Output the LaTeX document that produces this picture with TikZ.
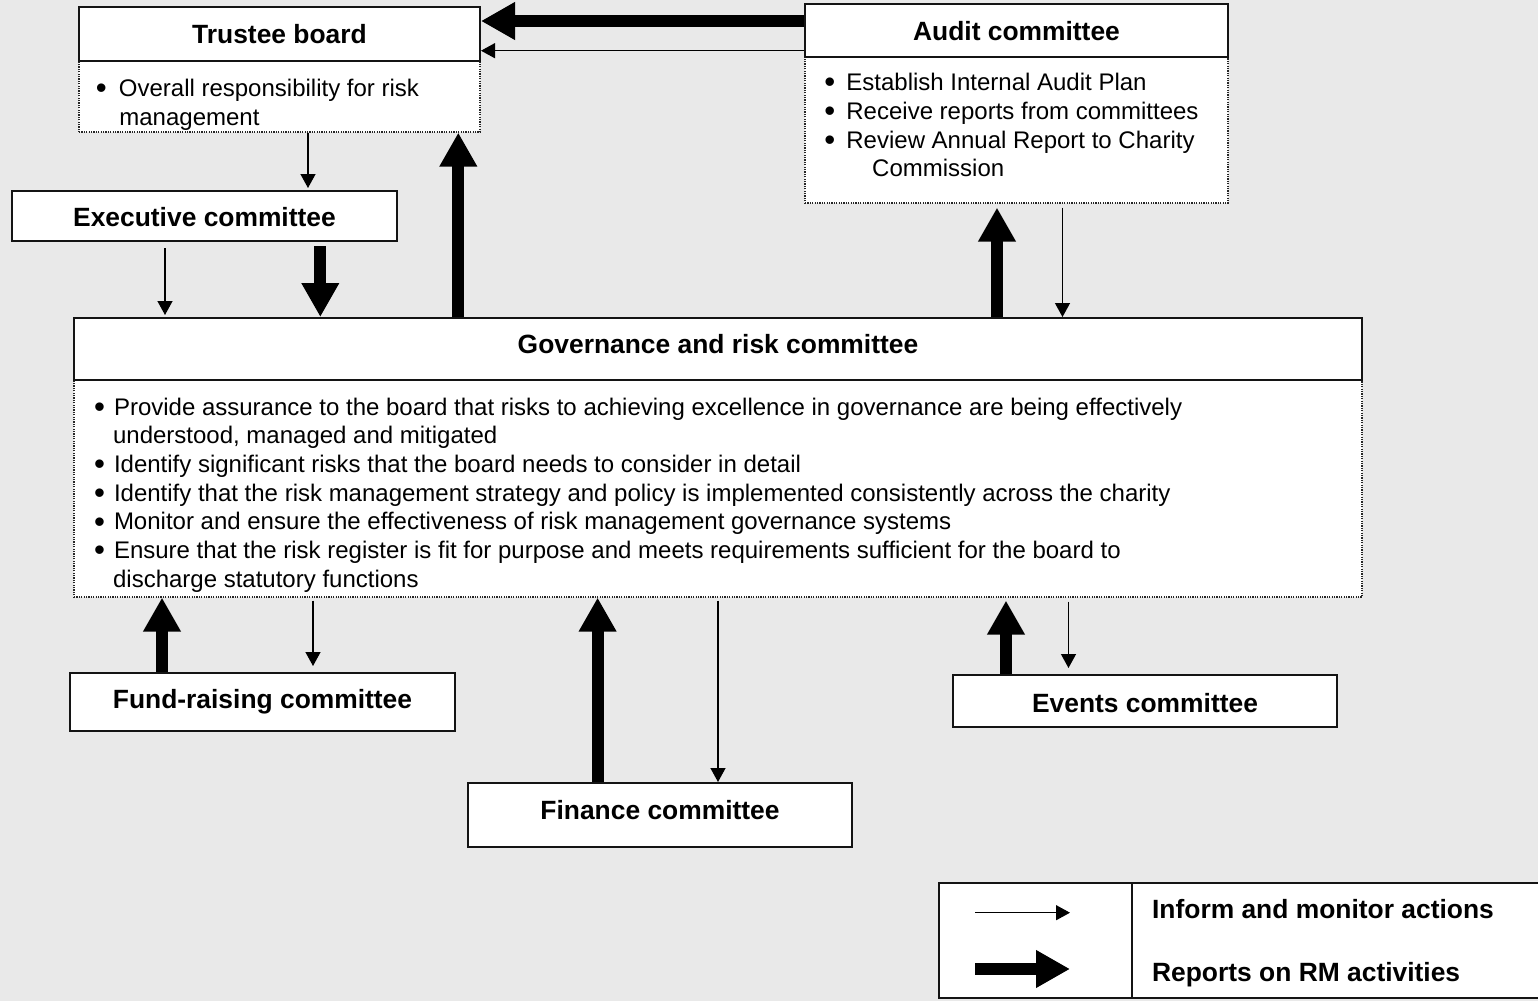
\documentclass[tikz,border=0pt]{standalone}
\usepackage{fontspec}
\setmainfont{Liberation Sans}
\usetikzlibrary{arrows.meta}

\definecolor{canvas}{RGB}{233,233,233}
\definecolor{edge}{RGB}{20,20,20}
\newcommand\hdrfont{\fontsize{13.2}{15.8}\selectfont\bfseries}
\newcommand\itemfont{\fontsize{12}{14.35}\selectfont}
% one bulleted line and one continuation line
\newcommand\bl[2]{\hbox{\makebox[#1][l]{\kern-0.4pt\raisebox{-1.1pt}{\scalebox{1.3}{\textbullet}}}#2}}
\newcommand\cl[2]{\hbox{\kern#1#2}}

\tikzset{
  hdr/.style={draw=edge, line width=1pt, fill=white, inner sep=0pt,
              font=\hdrfont, text depth=0pt},
  notes/.style={draw=black!85, line width=0.6pt, dash pattern=on 0.6pt off 0.6pt,
                fill=white, inner sep=0pt},
  txt/.style={anchor=base west, inner sep=0pt, font=\itemfont},
  inform/.style={draw=black, line width=0.65pt, -{Triangle[width=7.5pt,length=7pt]}},
  reports/.style={draw=black, line width=6pt, -{Triangle[width=17.75pt,length=17pt]}},
}

\begin{document}
\begin{tikzpicture}[x=0.5pt,y=-0.5pt]
\fill[canvas] (0,0) rectangle (1538,1001);
\useasboundingbox (0,0) rectangle (1538,1001);

% ---- Trustee board
\node[notes, minimum width=200.5pt, minimum height=35.5pt] (tbb) at (279.5,96.5) {};
\node[hdr, minimum width=200.5pt, minimum height=27pt, text height=9.3pt] (tbh) at (279.5,34) {Trustee board};
\node[txt] (tbt) at (96.3,96.7) {\vtop{%
  \bl{11.1pt}{Overall responsibility for risk}
  \cl{11.35pt}{management}}};

% ---- Audit committee
\node[notes, minimum width=211.5pt, minimum height=73pt] (acb) at (1016.5,130) {};
\node[hdr, minimum width=211.5pt, minimum height=26.5pt, text height=9.5pt] (ach) at (1016.5,30.5) {Audit committee};
\node[txt] (act) at (824.8,90.7) {\vtop{%
  \bl{10.6pt}{Establish Internal Audit Plan}
  \bl{10.6pt}{Receive reports from committees}
  \bl{10.6pt}{Review Annual Report to Charity}
  \cl{23.5pt}{Commission}}};

% ---- Executive committee
\node[hdr, minimum width=192.5pt, minimum height=25pt, text height=10.7pt] (exh) at (204.5,216) {Executive committee};

% ---- Governance and risk committee
\node[notes, minimum width=644pt, minimum height=108.5pt] (govb) at (718,488.5) {};
\node[hdr, minimum width=644pt, minimum height=31pt, text height=4.3pt] (govh) at (718,349) {Governance and risk committee};
\node[txt] (govt) at (94.4,415) {\vtop{%
  \bl{9.6pt}{Provide assurance to the board that risks to achieving excellence in governance are being effectively}
  \cl{9.15pt}{understood, managed and mitigated}
  \bl{9.6pt}{Identify significant risks that the board needs to consider in detail}
  \bl{9.6pt}{Identify that the risk management strategy and policy is implemented consistently across the charity}
  \bl{9.6pt}{Monitor and ensure the effectiveness of risk management governance systems}
  \bl{9.6pt}{Ensure that the risk register is fit for purpose and meets requirements sufficient for the board to}
  \cl{9.15pt}{discharge statutory functions}}};

% ---- Sub-committees
\node[hdr, minimum width=192.5pt, minimum height=29pt, text height=6.3pt] (fund) at (262.5,702) {Fund-raising committee};
\node[hdr, minimum width=192pt, minimum height=32pt, text height=4.3pt] (fin) at (660,815) {Finance committee};
\node[hdr, minimum width=192pt, minimum height=26pt, text height=11.7pt] (evt) at (1145,701) {Events committee};

% ---- columns and rows used by the connectors
\coordinate (ra) at (0,21);
\coordinate (rb) at (0,50.7);
\coordinate (c1) at (308,0);
\coordinate (c2) at (165,0);
\coordinate (c3) at (320.3,0);
\coordinate (c4) at (458.3,0);
\coordinate (c5) at (997,0);
\coordinate (c6) at (1062.5,0);
\coordinate (c7) at (162,0);
\coordinate (c8) at (313,0);
\coordinate (c9) at (597.6,0);
\coordinate (c10) at (718,0);
\coordinate (c11) at (1006,0);
\coordinate (c12) at (1068.5,0);

% ---- connectors
\draw[reports] (ach.west |- ra) -- (tbh.east |- ra);
\draw[inform] (ach.west |- rb) -- (tbh.east |- rb);
\draw[inform, shorten >=1pt] (tbb.south -| c1) -- (exh.north -| c1);
\draw[inform, shorten <=3pt, shorten >=1pt] (exh.south -| c2) -- (govh.north -| c2);
\draw[reports, shorten <=2pt] (exh.south -| c3) -- (govh.north -| c3);
\draw[reports] (govh.north -| c4) -- (tbb.south -| c4);
\draw[reports, shorten >=2pt] (govh.north -| c5) -- (acb.south -| c5);
\draw[inform, shorten <=2pt] (acb.south -| c6) -- (govh.north -| c6);
\draw[reports] (fund.north -| c7) -- (govb.south -| c7);
\draw[inform, shorten <=1.5pt, shorten >=3pt] (govb.south -| c8) -- (fund.north -| c8);
\draw[reports] (fin.north -| c9) -- (govb.south -| c9);
\draw[inform, shorten <=1.5pt] (govb.south -| c10) -- (fin.north -| c10);
\draw[reports, shorten >=1.5pt] (evt.north -| c11) -- (govb.south -| c11);
\draw[inform, shorten <=2pt, shorten >=3pt] (govb.south -| c12) -- (evt.north -| c12);

% ---- key
\node[draw=edge, line width=1pt, fill=white, minimum width=320.5pt, minimum height=57.5pt, inner sep=0pt] (leg) at (1259.5,940.5) {};
\coordinate (cdiv) at (1132,0);
\draw[draw=edge, line width=1pt] (leg.north -| cdiv) -- (leg.south -| cdiv);
\coordinate (li1) at (975,912.7);
\coordinate (li2) at (1070,912.7);
\coordinate (lr1) at (975,969);
\coordinate (lr2) at (1070,969);
\draw[inform] (li1) -- (li2);
\draw[reports] (lr1) -- (lr2);
\node[anchor=base west, inner sep=0pt, font=\hdrfont] (lt1) at (1151.7,918.3) {Inform and monitor actions};
\node[anchor=base west, inner sep=0pt, font=\hdrfont] (lt2) at (1151.7,981) {Reports on RM activities};
\end{tikzpicture}
\end{document}
